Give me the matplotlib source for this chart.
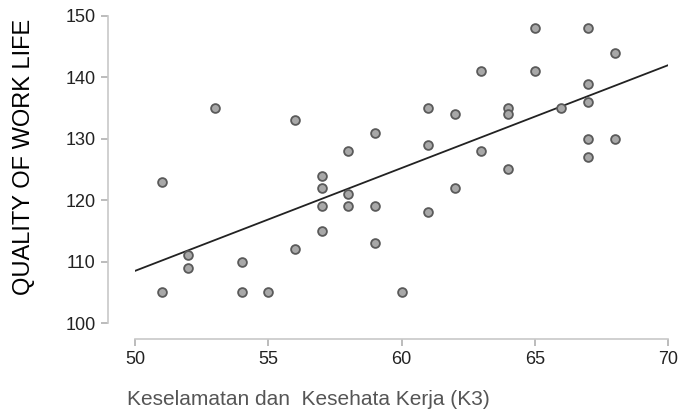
import numpy as np
import matplotlib
matplotlib.use("Agg")
import matplotlib.pyplot as plt

# K3 score (x) vs quality of work life (y)
k3 = [51, 51, 52, 52, 53, 54, 54, 55, 56, 56,
      57, 57, 57, 57, 58, 58, 58, 59, 59, 59,
      60, 61, 61, 61, 62, 62, 63, 63, 64, 64,
      64, 65, 65, 66, 67, 67, 67, 67, 67, 68, 68]
qwl = [123, 105, 111, 109, 135, 110, 105, 105, 133, 112,
       124, 122, 119, 115, 128, 121, 119, 131, 119, 113,
       105, 135, 129, 118, 134, 122, 141, 128, 135, 134,
       125, 148, 141, 135, 148, 139, 136, 130, 127, 144, 130]
xticks = [50, 55, 60, 65, 70]
yticks = [100, 110, 120, 130, 140, 150]

x = np.array(k3); y = np.array(qwl)
slope, icept = np.polyfit(x, y, 1)

fig = plt.figure(figsize=(6.83, 4.16), dpi=100)
ax = fig.add_axes([135/683, 1-323/416, 533/683, 307/416])

xl = np.array([50, 70])
ax.plot(xl, icept + slope*xl, color='#222222', lw=1.3, zorder=2)
ax.scatter(x, y, s=40, facecolor='#a8a8a8', edgecolor='#5a5a5a',
           linewidths=1.3, zorder=3, clip_on=False)

ax.set_xlim(50, 70); ax.set_ylim(100, 150)
ax.set_xticks(xticks); ax.set_yticks(yticks)
for s in ['top', 'right']:
  ax.spines[s].set_visible(False)
ax.spines['left'].set_position(('outward', 19.5))
ax.spines['bottom'].set_position(('outward', 11.5))
for s in ['left', 'bottom']:
  ax.spines[s].set_color('#c8c8c8'); ax.spines[s].set_linewidth(1.2)
ax.tick_params(colors='#aaaaaa', length=5, width=1.1, labelcolor='#222222',
               labelsize=13, pad=4)
for t in ax.get_xticklabels() + ax.get_yticklabels():
  t.set_family(['Liberation Sans', 'DejaVu Sans'])

ax.set_ylabel("QUALITY OF WORK LIFE", fontsize=17, color='black',
              family=['Liberation Sans', 'DejaVu Sans'])
ax.yaxis.set_label_coords(-100/533, 0.54)
ax.set_xlabel("Keselamatan dan  Kesehata Kerja (K3)", fontsize=15, color='#555555',
              family=['Liberation Sans', 'DejaVu Sans'])
ax.xaxis.set_label_coords(0.325, -67/307)

fig.savefig("out.png", dpi=100)
